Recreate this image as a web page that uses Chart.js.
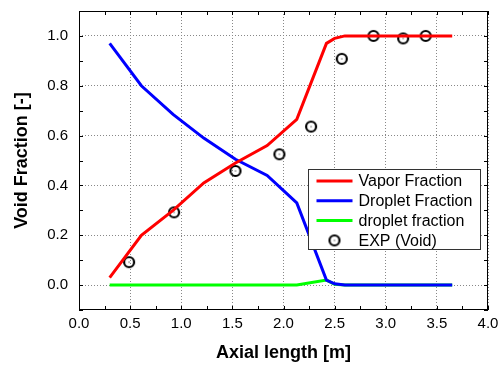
<!DOCTYPE html>
<html>
<head>
<meta charset="utf-8">
<script src="https://cdn.jsdelivr.net/npm/chart.js@4"></script>
<style>
  body { margin: 0; background: #fff; }
  #wrap { width: 502px; height: 367px; position: relative; }
</style>
</head>
<body>
<div id="wrap"><canvas id="graficoVoid"></canvas></div>
<script>
// valores
const calcX = [0.30, 0.61, 0.92, 1.22, 1.53, 1.84, 2.13, 2.42, 2.50, 2.60, 3.65];
const vaporY = [0.03, 0.20, 0.30, 0.41, 0.49, 0.56, 0.665, 0.97, 0.99, 1.0, 1.0];
const dropletY = [0.97, 0.80, 0.685, 0.59, 0.505, 0.44, 0.33, 0.02, 0.005, 0.0, 0.0];
const dropletLowY = [0, 0, 0, 0, 0, 0, 0, 0.02, 0.003, 0, 0];

const expX = [0.49, 0.93, 1.53, 1.96, 2.27, 2.57, 2.88, 3.17, 3.39];
const expY = [0.092, 0.292, 0.458, 0.525, 0.636, 0.908, 1.0, 0.99, 1.0];

const xTicks = [0, 0.5, 1, 1.5, 2, 2.5, 3, 3.5, 4];
const yTicks = [0, 0.2, 0.4, 0.6, 0.8, 1.0];

const labels = ['Vapor Fraction', 'Droplet Fraction', 'droplet fraction', 'EXP (Void)'];

const fonte = '"Liberation Sans", Arial, sans-serif';

function pares(xs, ys) {
  return xs.map((x, i) => ({ x: x, y: ys[i] }));
}

// marcador: circulo com ponto no meio
function fazMarcador() {
  const c = document.createElement('canvas');
  c.width = 14; c.height = 14;
  const g = c.getContext('2d');
  g.strokeStyle = '#000';
  g.lineWidth = 2.2;
  g.beginPath();
  g.arc(7, 7, 5, 0, Math.PI * 2);
  g.stroke();
  g.fillStyle = '#000';
  g.fillRect(6.5, 6.5, 1, 1);
  return c;
}
const marcador = fazMarcador();

// moldura, ticks para dentro e legenda
const moldura = {
  id: 'moldura',
  afterDraw(chart) {
    const { ctx, chartArea: a, scales } = chart;
    const sx = scales.x, sy = scales.y;
    ctx.save();
    ctx.strokeStyle = '#000';
    ctx.lineWidth = 1;
    ctx.strokeRect(a.left + 0.5, a.top + 0.5, a.right - a.left - 1, a.bottom - a.top - 1);
    ctx.beginPath();
    for (let v = 0; v <= 4.001; v += 0.25) {
      const px = Math.round(sx.getPixelForValue(v)) + 0.5;
      ctx.moveTo(px, a.bottom); ctx.lineTo(px, a.bottom - 4);
      ctx.moveTo(px, a.top); ctx.lineTo(px, a.top + 4);
    }
    for (let v = -0.1; v <= 1.101; v += 0.1) {
      const py = Math.round(sy.getPixelForValue(v)) + 0.5;
      ctx.moveTo(a.left, py); ctx.lineTo(a.left + 4, py);
      ctx.moveTo(a.right, py); ctx.lineTo(a.right - 4, py);
    }
    ctx.stroke();

    // legenda
    const lx = a.left + 229.5, ly = a.top + 158.5, lw = 172, lh = 80;
    ctx.fillStyle = '#fff';
    ctx.fillRect(lx, ly, lw, lh);
    ctx.strokeStyle = '#333';
    ctx.strokeRect(lx, ly, lw, lh);
    ctx.font = '16px ' + fonte;
    ctx.textBaseline = 'middle';
    chart.data.datasets.forEach((ds, i) => {
      const yy = ly + 11.5 + i * 19.8;
      if (ds.showLine === false) {
        ctx.drawImage(marcador, lx + 26 - 7, yy - 7);
      } else {
        ctx.strokeStyle = ds.borderColor;
        ctx.lineWidth = 3;
        ctx.beginPath();
        ctx.moveTo(lx + 8, yy); ctx.lineTo(lx + 44, yy);
        ctx.stroke();
      }
      ctx.fillStyle = '#000';
      ctx.fillText(ds.label, lx + 50, yy + 1);
    });
    ctx.restore();
  }
};

const graficoVoid = new Chart(document.getElementById('graficoVoid'), {
  type: 'scatter',
  data: {
    datasets: [{
      label: labels[0],
      data: pares(calcX, vaporY),
      showLine: true,
      borderColor: '#ff0000',
      borderWidth: 3,
      pointRadius: 0
    }, {
      label: labels[1],
      data: pares(calcX, dropletY),
      showLine: true,
      borderColor: '#0000ff',
      borderWidth: 3,
      pointRadius: 0
    }, {
      label: labels[2],
      data: pares(calcX, dropletLowY),
      showLine: true,
      borderColor: '#00ff00',
      borderWidth: 3,
      pointRadius: 0
    }, {
      label: labels[3],
      data: pares(expX, expY),
      showLine: false,
      pointStyle: marcador,
      pointRadius: 6
    }]
  },
  options: {
    responsive: true,
    maintainAspectRatio: false,
    animation: false,
    layout: { padding: { left: 0, right: 14, top: 11, bottom: 0 } },
    plugins: { legend: { display: false }, tooltip: { enabled: false } },
    scales: {
      x: {
        type: 'linear',
        min: 0, max: 4,
        afterBuildTicks: s => { s.ticks = xTicks.map(v => ({ value: v })); },
        afterFit: s => { s.height = 57; s.paddingLeft = 0; s.paddingRight = 0; },
        grid: { color: '#888', lineWidth: 1, drawTicks: false },
        border: { display: false, dash: [1, 2] },
        ticks: {
          padding: 5,
          color: '#000',
          font: { family: fonte, size: 15 },
          callback: v => Number(v).toFixed(1)
        },
        title: {
          display: true,
          text: 'Axial length [m]',
          color: '#000',
          font: { family: fonte, size: 18, weight: 'bold' },
          padding: { top: 0, bottom: 3 }
        }
      },
      y: {
        type: 'linear',
        min: -0.1, max: 1.1,
        afterBuildTicks: s => { s.ticks = yTicks.map(v => ({ value: v })); },
        afterFit: s => { s.width = 79; s.paddingTop = 0; s.paddingBottom = 0; },
        grid: { color: '#888', lineWidth: 1, drawTicks: false },
        border: { display: false, dash: [1, 2] },
        ticks: {
          padding: 11,
          color: '#000',
          font: { family: fonte, size: 15 },
          callback: v => Number(v).toFixed(1)
        },
        title: {
          display: true,
          text: 'Void Fraction [-]',
          color: '#000',
          font: { family: fonte, size: 18, weight: 'bold' },
          padding: { top: 11, bottom: 0 }
        }
      }
    }
  },
  plugins: [moldura]
});
</script>
</body>
</html>
